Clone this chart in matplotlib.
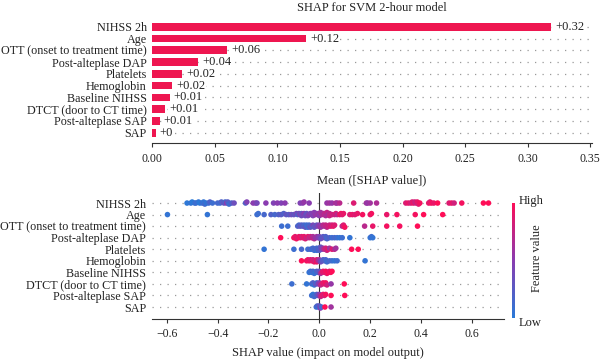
import numpy as np
import matplotlib.pyplot as plt
from matplotlib.colors import LinearSegmentedColormap

plt.rcParams['font.family'] = ['Liberation Serif', 'DejaVu Serif']

features = ["NIHSS 2h", "Age", "OTT (onset to treatment time)", "Post-alteplase DAP",
            "Platelets", "Hemoglobin", "Baseline NIHSS", "DTCT (door to CT time)",
            "Post-alteplase SAP", "SAP"]
mean_abs = [0.319, 0.123, 0.060, 0.0366, 0.0239, 0.0158, 0.0138, 0.0103, 0.0058, 0.0028]
bar_labels = ["+0.32", "+0.12", "+0.06", "+0.04", "+0.02", "+0.02", "+0.01", "+0.01", "+0.01", "+0"]

# (shap value, feature value 0=low..1=high)
nihss_pts = [(-0.52, 0.02), (-0.505, 0.05), (-0.50, 0.0), (-0.49, 0.05), (-0.485, 0.1), (-0.475, 0.05),
             (-0.47, 0.0), (-0.46, 0.1), (-0.455, 0.05), (-0.45, 0.15), (-0.445, 0.05), (-0.435, 0.1),
             (-0.43, 0.2), (-0.42, 0.1), (-0.40, 0.15), (-0.39, 0.1), (-0.385, 0.2), (-0.375, 0.3),
             (-0.37, 0.15), (-0.365, 0.5), (-0.36, 0.25), (-0.355, 0.1), (-0.345, 0.2), (-0.335, 0.35),
             (-0.29, 0.2), (-0.285, 0.45), (-0.26, 0.5), (-0.25, 0.5), (-0.245, 0.4), (-0.21, 0.5),
             (-0.18, 0.45), (-0.165, 0.5), (-0.15, 0.45), (-0.135, 0.5), (-0.075, 0.45), (-0.065, 0.5),
             (-0.06, 0.55), (-0.04, 0.5), (0.03, 0.55), (0.04, 0.6), (0.05, 0.55), (0.065, 0.65),
             (0.07, 0.6), (0.08, 0.7), (0.135, 0.85), (0.185, 0.6), (0.19, 0.55), (0.2, 0.6),
             (0.225, 0.65), (0.34, 0.85), (0.35, 0.9), (0.36, 0.8), (0.365, 0.85), (0.37, 0.9),
             (0.375, 0.8), (0.38, 0.75), (0.385, 0.9), (0.39, 0.85), (0.395, 0.95), (0.43, 0.9),
             (0.435, 0.85), (0.44, 0.95), (0.45, 0.9), (0.465, 1.0), (0.51, 0.85), (0.52, 0.9),
             (0.53, 0.8), (0.56, 0.95), (0.645, 1.0), (0.665, 1.0)]
age_pts = [(-0.597, 0.05), (-0.44, 0.05), (-0.245, 0.1), (-0.24, 0.1), (-0.217, 0.15), (-0.19, 0.2),
           (-0.175, 0.15), (-0.16, 0.2), (-0.15, 0.25), (-0.14, 0.2), (-0.13, 0.3), (-0.12, 0.25),
           (-0.11, 0.35), (-0.1, 0.3), (-0.09, 0.4), (-0.085, 0.2), (-0.08, 0.35), (-0.075, 0.45),
           (-0.07, 0.3), (-0.07, 0.35), (-0.065, 0.4), (-0.06, 0.5), (-0.055, 0.35), (-0.05, 0.45),
           (-0.05, 0.3), (-0.045, 0.4), (-0.04, 0.5), (-0.035, 0.4), (-0.03, 0.55), (-0.03, 0.45),
           (-0.025, 0.45), (-0.02, 0.5), (-0.015, 0.55), (-0.01, 0.5), (-0.005, 0.6), (0.0, 0.55),
           (0.0, 0.5), (0.005, 0.6), (0.01, 0.65), (0.015, 0.6), (0.02, 0.7), (0.02, 0.7),
           (0.025, 0.65), (0.03, 0.75), (0.035, 0.6), (0.04, 0.7), (0.04, 0.75), (0.05, 0.8),
           (0.06, 0.75), (0.065, 0.85), (0.07, 0.7), (0.08, 0.9), (0.085, 0.95), (0.09, 0.85),
           (0.095, 0.9), (0.12, 0.85), (0.13, 0.9), (0.14, 0.85), (0.15, 0.9), (0.17, 0.95),
           (0.2, 0.9), (0.205, 0.95), (0.265, 0.9), (0.305, 0.95), (0.377, 0.95), (0.41, 1.0),
           (0.485, 1.0)]
ott_pts = [(-0.148, 0.1), (-0.124, 0.1), (-0.085, 0.2), (-0.08, 0.15), (-0.075, 0.3), (-0.07, 0.2),
           (-0.065, 0.25), (-0.06, 0.15), (-0.055, 0.3), (-0.05, 0.2), (-0.05, 0.1), (-0.045, 0.1),
           (-0.04, 0.25), (-0.04, 0.15), (-0.035, 0.3), (-0.03, 0.2), (-0.025, 0.4), (-0.02, 0.25),
           (-0.015, 0.35), (-0.01, 0.3), (-0.005, 0.45), (0.0, 0.5), (0.005, 0.6), (0.01, 0.55),
           (0.015, 0.7), (0.02, 0.65), (0.025, 0.75), (0.03, 0.7), (0.035, 0.8), (0.04, 0.75),
           (0.045, 0.85), (0.05, 0.8), (0.055, 0.9), (0.06, 0.85), (0.09, 0.7), (0.095, 0.85),
           (0.1, 0.95), (0.178, 0.7), (0.21, 0.9), (0.265, 0.95), (0.316, 0.95), (0.386, 1.0)]
dap_pts = [(-0.152, 1.0), (-0.1, 0.95), (-0.095, 0.9), (-0.09, 0.95), (-0.085, 0.85), (-0.08, 0.9),
           (-0.075, 0.95), (-0.07, 0.85), (-0.065, 0.8), (-0.06, 0.9), (-0.055, 0.85), (-0.05, 0.75),
           (-0.045, 0.9), (-0.04, 0.7), (-0.035, 0.8), (-0.03, 0.75), (-0.025, 0.65), (-0.02, 0.7),
           (-0.015, 0.55), (-0.01, 0.6), (-0.005, 0.5), (0.0, 0.45), (0.005, 0.35), (0.01, 0.3),
           (0.015, 0.25), (0.02, 0.35), (0.025, 0.2), (0.03, 0.15), (0.04, 0.2), (0.05, 0.1),
           (0.06, 0.15), (0.07, 0.1), (0.08, 0.05), (0.09, 0.1), (0.12, 0.05), (0.2, 0.05),
           (0.205, 0.1), (0.21, 0.05)]
platelets_pts = [(-0.217, 0.05), (-0.1, 0.1), (-0.07, 0.15), (-0.045, 0.1), (-0.035, 0.2), (-0.03, 0.05),
                 (-0.025, 0.15), (-0.02, 0.1), (-0.015, 0.2), (-0.01, 0.15), (-0.01, 0.05), (-0.005, 0.25),
                 (0.0, 0.1), (0.0, 0.2), (0.005, 0.3), (0.01, 0.4), (0.015, 0.55), (0.02, 0.7),
                 (0.025, 0.8), (0.03, 0.75), (0.035, 0.9), (0.04, 0.6), (0.05, 0.85), (0.06, 0.7),
                 (0.065, 0.6), (0.127, 1.0), (0.153, 1.0)]
hemoglobin_pts = [(-0.07, 1.0), (-0.05, 0.95), (-0.045, 0.9), (-0.04, 0.95), (-0.035, 0.85), (-0.03, 0.9),
                  (-0.025, 0.8), (-0.02, 0.9), (-0.015, 0.75), (-0.01, 0.85), (-0.01, 0.95), (-0.005, 0.7),
                  (0.0, 0.6), (0.005, 0.4), (0.01, 0.3), (0.015, 0.2), (0.02, 0.25), (0.025, 0.15),
                  (0.03, 0.1), (0.04, 0.15), (0.05, 0.1), (0.06, 0.05), (0.07, 0.1), (0.18, 0.05)]
baseline_pts = [(-0.04, 0.05), (-0.035, 0.1), (-0.03, 0.05), (-0.025, 0.15), (-0.02, 0.1), (-0.015, 0.05),
                (-0.01, 0.2), (-0.005, 0.15), (0.0, 0.3), (0.005, 0.6), (0.01, 0.8), (0.015, 0.9),
                (0.02, 0.85), (0.025, 0.95), (0.03, 0.9), (0.035, 1.0), (0.04, 0.9), (0.045, 0.95),
                (0.05, 1.0)]
dtct_pts = [(-0.108, 0.1), (-0.05, 0.05), (-0.03, 0.1), (-0.025, 0.2), (-0.02, 0.05), (-0.015, 0.3),
            (-0.01, 0.15), (-0.005, 0.4), (0.0, 0.5), (0.005, 0.7), (0.01, 0.8), (0.015, 0.9),
            (0.02, 0.85), (0.025, 0.95), (0.03, 0.8), (0.046, 0.55), (0.098, 1.0)]
post_sap_pts = [(-0.03, 0.1), (-0.025, 0.05), (-0.02, 0.15), (-0.015, 0.1), (-0.01, 0.2), (-0.005, 0.3),
                (0.0, 0.5), (0.005, 0.7), (0.01, 0.85), (0.015, 0.9), (0.02, 0.8), (0.025, 0.95),
                (0.046, 1.0), (0.1, 1.0)]
sap_pts = [(-0.012, 0.1), (-0.008, 0.2), (-0.004, 0.05), (0.0, 0.3), (0.004, 0.5), (0.008, 0.15),
           (0.022, 1.0), (0.046, 0.6)]

swarm_data = [nihss_pts, age_pts, ott_pts, dap_pts, platelets_pts, hemoglobin_pts,
              baseline_pts, dtct_pts, post_sap_pts, sap_pts]

bar_color = "#ee1650"
cmap = LinearSegmentedColormap.from_list("shap_rb", ["#2a7ad8", "#8a3cb0", "#ff0d57"])


def swarm_offsets(vals, width=0.012):
    vals = np.asarray(vals)
    quant = np.round(vals / width)
    order = np.argsort(quant, kind="stable")
    ys = np.zeros(len(vals))
    layer, last = 0, None
    for i in order:
        if quant[i] != last:
            layer = 0
        ys[i] = np.ceil(layer / 2) * ((layer % 2) * 2 - 1)
        layer += 1
        last = quant[i]
    top = np.max(np.abs(ys)) if np.max(np.abs(ys)) > 0 else 1
    return ys * min(0.09, 0.38 / top)


fig = plt.figure(figsize=(6, 3.64), dpi=100)
n = len(features)
ypos = np.arange(n)[::-1]

# --- top: mean |SHAP| bars ---
ax1 = fig.add_axes([0.254, 0.607, 0.733, 0.339])
for y in ypos:
    ax1.axhline(y, color="#999999", lw=0.9, dashes=(1, 5), zorder=-1)
ax1.barh(ypos, mean_abs, height=0.65, color=bar_color)
for y, w, lab in zip(ypos, mean_abs, bar_labels):
    ax1.text(w + 0.003, y, lab, va="center", ha="left", fontsize=9, color="#222222",
             bbox=dict(facecolor="white", edgecolor="none", pad=0.5))
ax1.set_xlim(0, 0.3516)
ax1.set_ylim(-0.875, 9.6)
ax1.set_yticks(ypos)
ax1.set_yticklabels(features)
ax1.set_xticks(np.arange(0, 0.351, 0.05))
ax1.set_xticklabels([f"{t:.2f}" for t in np.arange(0, 0.351, 0.05)])
for s in ["top", "right", "left"]:
    ax1.spines[s].set_visible(False)
ax1.spines["bottom"].set_color("#333333")
ax1.spines["bottom"].set_linewidth(0.8)
ax1.tick_params(axis="y", length=0, pad=4, labelsize=8.7, labelcolor="#222222")
ax1.tick_params(axis="x", length=3, width=0.8, color="#333333", labelsize=8.5, pad=4, labelcolor="#222222")

fig.text(372 / 600, 1 - 8 / 364, "SHAP for SVM 2-hour model", ha="center", va="center", fontsize=9, color="#222222")
fig.text(372 / 600, 1 - 180 / 364, "Mean ([SHAP value])", ha="center", va="center", fontsize=9, color="#222222")

# --- bottom: beeswarm ---
ax2 = fig.add_axes([0.2528, 0.1245, 0.5872, 0.3453])
for y in ypos:
    ax2.axhline(y, color="#999999", lw=0.9, dashes=(1, 5), zorder=-1)
ax2.axvline(0, color="#333333", lw=0.8, zorder=0)
for y, pts in zip(ypos, swarm_data):
    vals = [p[0] for p in pts]
    fv = [p[1] for p in pts]
    ax2.scatter(vals, y + swarm_offsets(vals), c=fv, cmap=cmap, vmin=0, vmax=1,
                s=16, linewidths=0, zorder=3)
ax2.set_xlim(-0.659, 0.726)
ax2.set_ylim(-1.01, 9.87)
ax2.set_yticks(ypos)
ax2.set_yticklabels(features)
ax2.set_xticks([-0.6, -0.4, -0.2, 0.0, 0.2, 0.4, 0.6])
for s in ["top", "right", "left"]:
    ax2.spines[s].set_visible(False)
ax2.spines["bottom"].set_color("#333333")
ax2.spines["bottom"].set_linewidth(0.8)
ax2.tick_params(axis="y", length=0, pad=4, labelsize=8.7, labelcolor="#222222")
ax2.tick_params(axis="x", length=3, width=0.8, color="#333333", labelsize=8.5, pad=4, labelcolor="#222222")

fig.text(328 / 600, 1 - 353 / 364, "SHAP value (impact on model output)", ha="center", va="center",
         fontsize=9, color="#222222")

# colour bar
cax = fig.add_axes([0.853, 0.1264, 0.004, 0.316])
cax.imshow(np.linspace(0, 1, 256)[:, None], cmap=cmap, aspect="auto", origin="lower")
cax.axis("off")
fig.text(519 / 600, 1 - 201 / 364, "High", ha="left", va="center", fontsize=9, color="#222222")
fig.text(519 / 600, 1 - 323 / 364, "Low", ha="left", va="center", fontsize=9, color="#222222")
fig.text(537 / 600, 1 - 258 / 364, "Feature value", ha="center", va="center", rotation=90,
         fontsize=9, color="#222222")

fig.savefig("out.png", dpi=100)
